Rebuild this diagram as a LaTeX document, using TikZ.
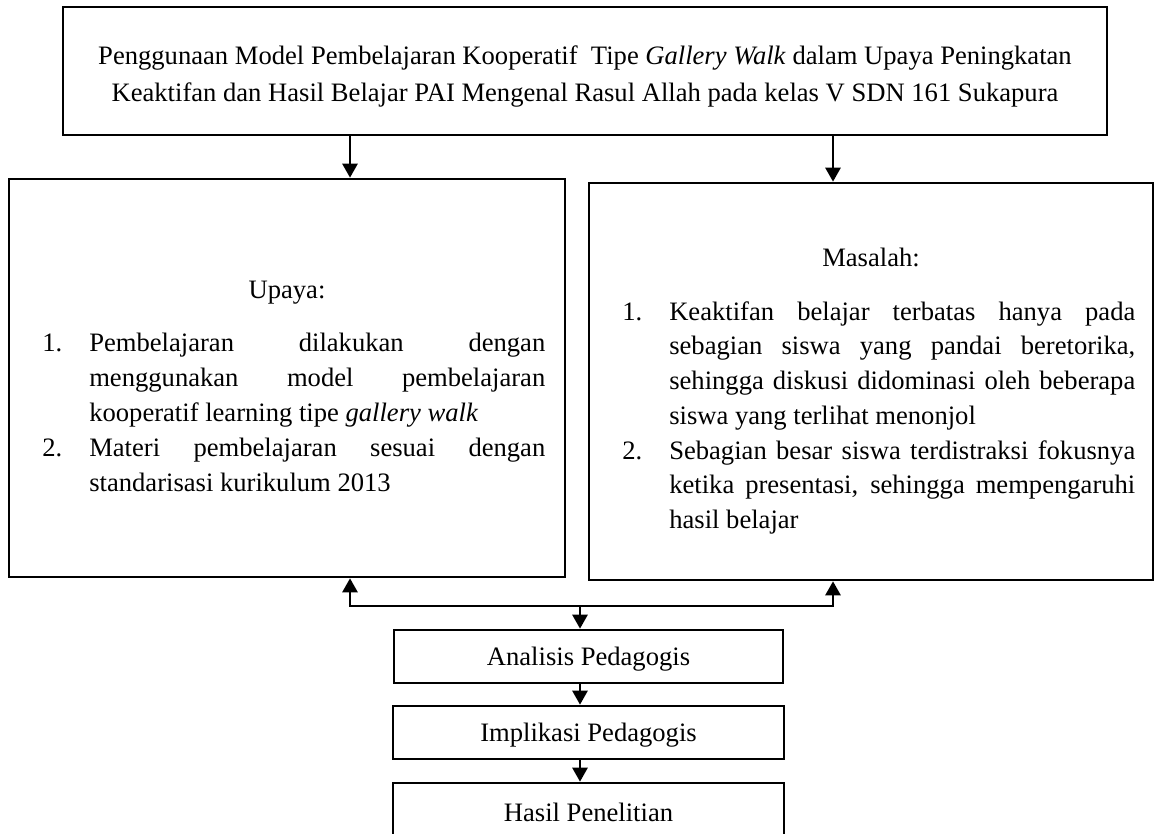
\documentclass[tikz,border=0pt]{standalone}
\usepackage{fontspec}
\setmainfont{Liberation Serif}
\usetikzlibrary{arrows.meta}
\tikzset{>/.tip={Triangle[length=14pt,width=15pt]}}
\tikzset{
  kotak/.style={draw, line width=2.6pt, inner sep=0pt},
  teks/.style={font=\fontsize{26.6}{35}\selectfont, inner sep=0pt},
}
\tolerance=10000
\hbadness=10000
\hyphenpenalty=10000
\newcommand{\butir}[2]{\noindent\hangindent=47pt\hangafter=1\makebox[47pt][l]{#1}\strut#2\par}

\begin{document}
\begin{tikzpicture}[x=1pt, y=-1pt, line width=2.6pt]
\useasboundingbox (0,0) rectangle (1155,834);

\node[kotak, minimum width=1044pt, minimum height=128pt] (judul) at (585,71) {};
\node[teks, text width=1000pt, align=flush center, font=\fontsize{26.6}{37}\selectfont] (judulTeks) at (585,75.5)
  {\strut Penggunaan Model Pembelajaran Kooperatif~ Tipe \textit{Gallery Walk} dalam Upaya Peningkatan\\
   \strut Keaktifan dan Hasil Belajar PAI Mengenal Rasul Allah pada kelas V SDN 161 Sukapura};

\node[kotak, minimum width=556pt, minimum height=398pt] (upaya) at (287,378) {};
\node[teks, anchor=base] (judulUpaya) at (287,298) {Upaya:};
\node[teks, anchor=north west, text width=503pt, align=justify] (isiUpaya) at (41,325.5)
  {\butir{1.}{Pembelajaran dilakukan dengan\linebreak menggunakan model pembelajaran\linebreak
   kooperatif learning tipe \textit{gallery walk}}
   \butir{2.}{Materi pembelajaran sesuai dengan\linebreak standarisasi kurikulum 2013}};

\node[kotak, minimum width=564pt, minimum height=397pt] (masalah) at (871,381.5) {};
\node[teks, anchor=base] (judulMasalah) at (871,266) {Masalah:};
\node[teks, anchor=north west, text width=513pt, align=justify,
  font=\fontsize{26.6}{34.7}\selectfont] (isiMasalah) at (621,294.7)
  {\butir{1.}{Keaktifan belajar terbatas hanya pada\linebreak sebagian siswa yang pandai beretorika,\linebreak
   sehingga diskusi didominasi oleh beberapa\linebreak siswa yang terlihat menonjol}
   \butir{2.}{Sebagian besar siswa terdistraksi fokusnya\linebreak ketika presentasi, sehingga mempengaruhi\linebreak
   hasil belajar}};

\node[kotak, teks, minimum width=389pt, minimum height=53pt, text height=17.4pt, text depth=0pt] (analisis) at (588.5,656.5) {Analisis Pedagogis};
\node[kotak, teks, minimum width=391pt, minimum height=53pt, text height=17.4pt, text depth=0pt] (implikasi) at (588.5,732.5) {Implikasi Pedagogis};
\node[kotak, teks, minimum width=391pt, minimum height=60pt, text height=17.4pt, text depth=0pt] (hasil) at (588.5,813) {Hasil Penelitian};

\coordinate (simpul) at (580,606);

\draw[->] ([xshift=-235pt]judul.south) -- ([xshift=-235pt]judul.south |- upaya.north);
\draw[->] ([xshift=248pt]judul.south) -- ([xshift=248pt]judul.south |- masalah.north);
\draw[->] (simpul) -| ([xshift=63pt]upaya.south);
\draw[->] (simpul) -| ([xshift=-38pt]masalah.south);
\draw[->] (simpul) -- (simpul |- analisis.north);
\foreach \a/\b in {analisis/implikasi, implikasi/hasil}
{
  \draw[->] (\a.south -| simpul) -- (\b.north -| simpul);
}
\end{tikzpicture}
\end{document}
